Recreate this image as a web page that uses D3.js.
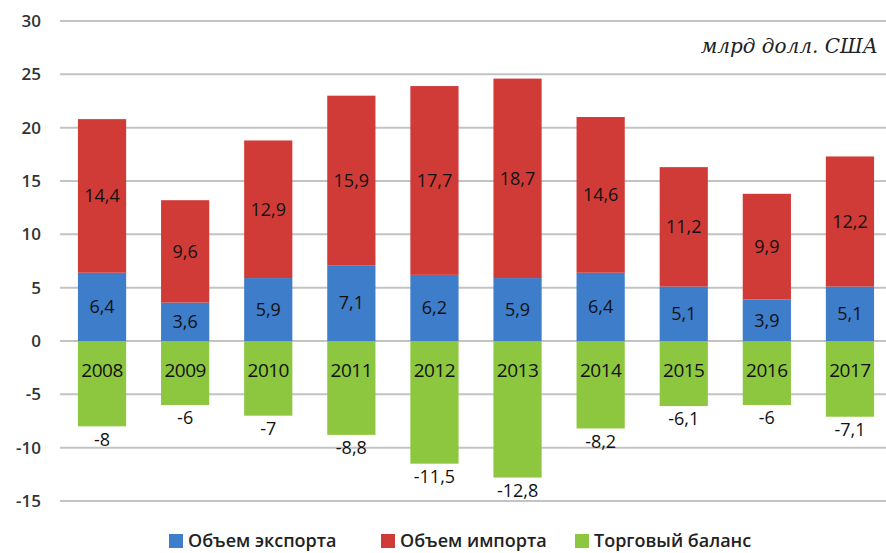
<!DOCTYPE html>
<html>
<head>
<meta charset="utf-8">
<script src="https://cdn.jsdelivr.net/npm/d3@7"></script>
<style>
body { margin: 0; background: #fff; }
svg { display: block; font-family: "Open Sans", "Noto Sans", sans-serif; }
</style>
</head>
<body>
<div id="chart"></div>
<script>
var years = ["2008", "2009", "2010", "2011", "2012", "2013", "2014", "2015", "2016", "2017"];
var exportVals = [6.4, 3.6, 5.9, 7.1, 6.2, 5.9, 6.4, 5.1, 3.9, 5.1];
var importVals = [14.4, 9.6, 12.9, 15.9, 17.7, 18.7, 14.6, 11.2, 9.9, 12.2];
var balanceVals = [-8, -6, -7, -8.8, -11.5, -12.8, -8.2, -6.1, -6, -7.1];
var yTicks = [30, 25, 20, 15, 10, 5, 0, -5, -10, -15];
var seriesNames = ["Объем экспорта", "Объем импорта", "Торговый баланс"];
var unitLabel = "млрд долл. США";

var width = 886, height = 553;
var colors = ["#3d7dca", "#d13b37", "#8dc63f"];

function fmt(v) { return String(v).replace(".", ","); }

var svg = d3.select("#chart").append("svg")
		.attr("width", width)
		.attr("height", height);

var x = d3.scaleBand()
		.domain(years)
		.range([60.5, 891.5])
		.paddingInner(0.42)
		.paddingOuter(0.21);

var y = d3.scaleLinear()
		.domain([-15, 30])
		.range([501, 21]);

// grid
svg.append("g").selectAll("line")
		.data(yTicks)
		.enter()
		.append("line")
		.attr("x1", 60)
		.attr("x2", width)
		.attr("y1", function(d) {return y(d)})
		.attr("y2", function(d) {return y(d)})
		.attr("stroke", "#c3c3c3")
		.attr("stroke-width", 2);

// y axis labels
svg.append("g").selectAll("text")
		.data(yTicks)
		.enter()
		.append("text")
		.attr("x", 41)
		.attr("y", function(d) {return y(d)})
		.attr("dy", "0.35em")
		.attr("text-anchor", "end")
		.attr("font-size", 17)
		.attr("font-weight", 600)
		.attr("fill", "#333")
		.text(function(d) {return d});

// unit label
svg.append("text")
		.attr("x", 878)
		.attr("y", 53)
		.attr("text-anchor", "end")
		.attr("font-family", "'DejaVu Serif', 'Liberation Serif', serif")
		.attr("font-style", "italic")
		.attr("font-size", 20)
		.attr("fill", "#222")
		.text(unitLabel);

var rows = years.map(function(yr, i) {
	return {year: yr, exp: exportVals[i], imp: importVals[i], bal: balanceVals[i]};
});

var bars = svg.append("g");

// export
bars.selectAll("rect.exp")
		.data(rows)
		.enter()
		.append("rect")
		.attr("x", function(d) {return x(d.year)})
		.attr("width", x.bandwidth())
		.attr("y", function(d) {return y(d.exp)})
		.attr("height", function(d) {return y(0) - y(d.exp)})
		.attr("fill", colors[0]);

// import (stacked on export)
bars.selectAll("rect.imp")
		.data(rows)
		.enter()
		.append("rect")
		.attr("x", function(d) {return x(d.year)})
		.attr("width", x.bandwidth())
		.attr("y", function(d) {return y(d.exp + d.imp)})
		.attr("height", function(d) {return y(d.exp) - y(d.exp + d.imp)})
		.attr("fill", colors[1]);

// balance
bars.selectAll("rect.bal")
		.data(rows)
		.enter()
		.append("rect")
		.attr("x", function(d) {return x(d.year)})
		.attr("width", x.bandwidth())
		.attr("y", y(0))
		.attr("height", function(d) {return y(d.bal) - y(0)})
		.attr("fill", colors[2]);

var labels = svg.append("g")
		.attr("font-size", 18)
		.attr("fill", "#111")
		.attr("text-anchor", "middle");

function cx(d) {return x(d.year) + x.bandwidth() / 2;}

labels.selectAll("text.exp")
		.data(rows)
		.enter()
		.append("text")
		.attr("x", cx)
		.attr("y", function(d) {return y(d.exp / 2)})
		.attr("dy", "0.35em")
		.text(function(d) {return fmt(d.exp)});

labels.selectAll("text.imp")
		.data(rows)
		.enter()
		.append("text")
		.attr("x", cx)
		.attr("y", function(d) {return y(d.exp + d.imp / 2)})
		.attr("dy", "0.35em")
		.text(function(d) {return fmt(d.imp)});

labels.selectAll("text.year")
		.data(rows)
		.enter()
		.append("text")
		.attr("x", cx)
		.attr("y", y(0) + 29)
		.attr("dy", "0.35em")
		.attr("font-size", 19)
		.attr("letter-spacing", -0.5)
		.text(function(d) {return d.year});

labels.selectAll("text.bal")
		.data(rows)
		.enter()
		.append("text")
		.attr("x", cx)
		.attr("y", function(d) {return y(d.bal) + 13})
		.attr("dy", "0.35em")
		.text(function(d) {return fmt(d.bal)});

// legend
var legendX = [169, 381, 575];
var legend = svg.append("g").selectAll("g")
		.data(seriesNames)
		.enter()
		.append("g")
		.attr("transform", function(d, i) {return "translate(" + legendX[i] + ",541)"});

legend.append("rect")
		.attr("x", 0)
		.attr("y", -7)
		.attr("width", 14)
		.attr("height", 14)
		.attr("fill", function(d, i) {return colors[i]});

legend.append("text")
		.attr("x", 19)
		.attr("y", 0)
		.attr("dy", "0.35em")
		.attr("font-size", 18)
		.attr("font-weight", 600)
		.attr("fill", "#222")
		.text(function(d) {return d});
</script>
</body>
</html>
